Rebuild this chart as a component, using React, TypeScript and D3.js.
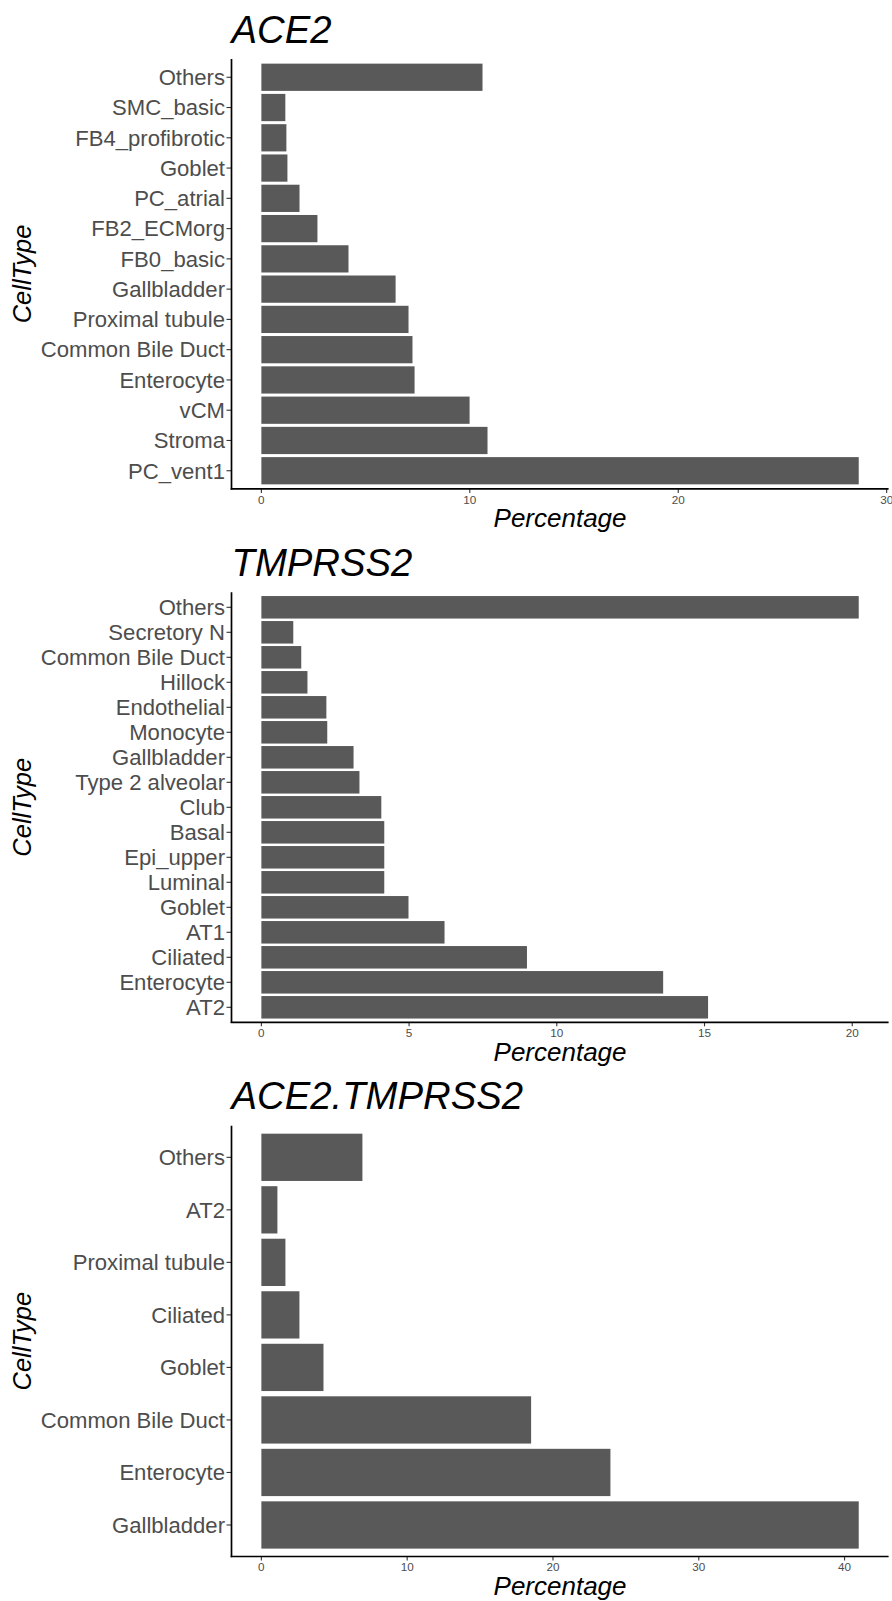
import React from "react";
import * as d3 from "d3";

const ace2Cats = ["Others", "SMC_basic", "FB4_profibrotic", "Goblet", "PC_atrial", "FB2_ECMorg", "FB0_basic", "Gallbladder", "Proximal tubule", "Common Bile Duct", "Enterocyte", "vCM", "Stroma", "PC_vent1"];
const ace2Vals = [10.61, 1.15, 1.2, 1.25, 1.83, 2.69, 4.18, 6.44, 7.06, 7.25, 7.35, 9.99, 10.85, 28.66];
const ace2Ticks = [0, 10, 20, 30];

const tmpCats = ["Others", "Secretory N", "Common Bile Duct", "Hillock", "Endothelial", "Monocyte", "Gallbladder", "Type 2 alveolar", "Club", "Basal", "Epi_upper", "Luminal", "Goblet", "AT1", "Ciliated", "Enterocyte", "AT2"];
const tmpVals = [20.22, 1.08, 1.35, 1.56, 2.2, 2.23, 3.12, 3.32, 4.06, 4.16, 4.16, 4.16, 4.98, 6.2, 8.99, 13.6, 15.12];
const tmpTicks = [0, 5, 10, 15, 20];

const bothCats = ["Others", "AT2", "Proximal tubule", "Ciliated", "Goblet", "Common Bile Duct", "Enterocyte", "Gallbladder"];
const bothVals = [6.93, 1.1, 1.65, 2.61, 4.26, 18.5, 23.94, 40.97];
const bothTicks = [0, 10, 20, 30, 40];

const titles = ["ACE2", "TMPRSS2", "ACE2.TMPRSS2"];

const FONT = "'Liberation Sans', Arial, sans-serif";
const LEFT = 231.5;
const RIGHT = 888.6;

type PanelProps = {
  title: string;
  cats: string[];
  vals: number[];
  ticks: number[];
  top: number;
  bottom: number;
};

function Panel({ title, cats, vals, ticks, top, bottom }: PanelProps) {
  const max = d3.max(vals) as number;
  const x = d3.scaleLinear().domain([-0.05 * max, 1.05 * max]).range([LEFT, RIGHT]);
  const y = d3.scalePoint<string>().domain(cats).range([top, bottom]).padding(0.6);
  const step = y.step();
  const bh = step * 0.9;
  const midY = (top + bottom) / 2;
  return (
    <g>
      <text x={LEFT} y={top - 16.6} fontFamily={FONT} fontStyle="italic" fontSize={38.3} fill="#000">
        {title}
      </text>
      {cats.map((c, i) => (
        <rect key={c + i} x={x(0)} y={(y(c) as number) - bh / 2} width={x(vals[i]) - x(0)} height={bh} fill="#595959" />
      ))}
      {cats.map((c, i) => (
        <g key={"t" + i}>
          <line x1={LEFT - 5} x2={LEFT} y1={y(c)} y2={y(c)} stroke="#333" strokeWidth={1.1} />
          <text x={LEFT - 6.5} y={(y(c) as number) + 7.8} textAnchor="end" fontFamily={FONT} fontSize={22.1} fill="#4D4D4D">
            {c}
          </text>
        </g>
      ))}
      {ticks.map((t) => (
        <g key={"x" + t}>
          <line x1={x(t)} x2={x(t)} y1={bottom} y2={bottom + 4} stroke="#333" strokeWidth={1.1} />
          <text x={x(t)} y={bottom + 14.8} textAnchor="middle" fontFamily={FONT} fontSize={11.7} fill="#4D4D4D">
            {t}
          </text>
        </g>
      ))}
      <line x1={LEFT} x2={LEFT} y1={top} y2={bottom + 0.8} stroke="#000" strokeWidth={1.7} />
      <line x1={LEFT - 0.8} x2={RIGHT} y1={bottom} y2={bottom} stroke="#000" strokeWidth={1.7} />
      <text x={(LEFT + RIGHT) / 2} y={bottom + 38.2} textAnchor="middle" fontFamily={FONT} fontStyle="italic" fontSize={26} fill="#000">
        Percentage
      </text>
      <text
        transform={`translate(31,${midY}) rotate(-90)`}
        textAnchor="middle"
        fontFamily={FONT}
        fontStyle="italic"
        fontSize={25.5}
        fill="#000"
      >
        CellType
      </text>
    </g>
  );
}

export default function App() {
  const panels = [
    { cats: ace2Cats, vals: ace2Vals, ticks: ace2Ticks, top: 59.1, bottom: 488.9 },
    { cats: tmpCats, vals: tmpVals, ticks: tmpTicks, top: 592.3, bottom: 1022.3 },
    { cats: bothCats, vals: bothVals, ticks: bothTicks, top: 1125.8, bottom: 1556.5 },
  ];
  return (
    <svg
      width={892}
      height={1601}
      viewBox="0 0 892 1601"
      style={{ position: "absolute", left: 0, top: 0, background: "#fff" }}
    >
      <rect x={0} y={0} width={892} height={1601} fill="#fff" />
      {panels.map((p, i) => (
        <Panel key={i} title={titles[i]} {...p} />
      ))}
    </svg>
  );
}
